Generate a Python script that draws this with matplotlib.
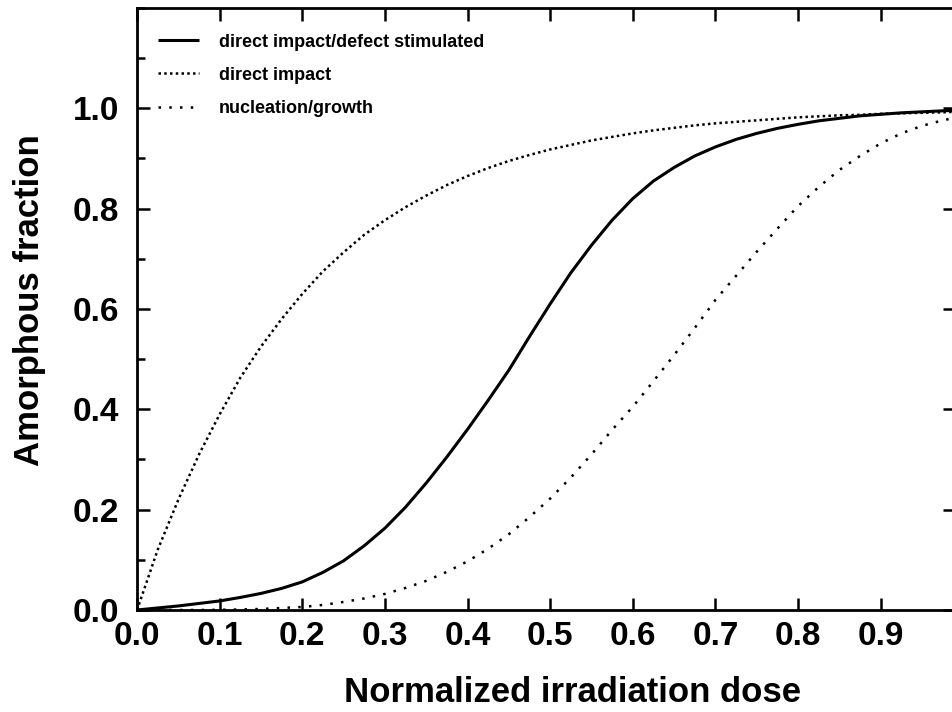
import numpy as np
import matplotlib.pyplot as plt
from matplotlib.ticker import MultipleLocator

plt.rcParams['font.family'] = ['Liberation Sans', 'DejaVu Sans']
plt.rcParams['font.weight'] = 'bold'

# dose values (x) shared by the three curves
dose = [0.0, 0.025, 0.05, 0.075, 0.1, 0.125, 0.15, 0.175, 0.2, 0.225, 0.25,
        0.275, 0.3, 0.325, 0.35, 0.375, 0.4, 0.425, 0.45, 0.475, 0.5,
        0.525, 0.55, 0.575, 0.6, 0.625, 0.65, 0.675, 0.7, 0.725, 0.75,
        0.775, 0.8, 0.825, 0.85, 0.875, 0.9, 0.925, 0.95, 0.975, 0.99]

# direct impact/defect stimulated (solid)
defect_stim = [0.0, 0.004, 0.008, 0.013, 0.018, 0.025, 0.033, 0.043, 0.056, 0.075, 0.098,
               0.128, 0.163, 0.205, 0.253, 0.305, 0.36, 0.418, 0.478, 0.545, 0.61,
               0.672, 0.727, 0.777, 0.82, 0.855, 0.882, 0.905, 0.923, 0.938, 0.95,
               0.96, 0.968, 0.975, 0.98, 0.985, 0.988, 0.991, 0.993, 0.995, 0.996]

# direct impact (dense dots)
direct = [0.0, 0.12, 0.22, 0.31, 0.39, 0.463, 0.525, 0.58, 0.63, 0.675, 0.713,
          0.748, 0.777, 0.803, 0.826, 0.847, 0.865, 0.881, 0.895, 0.907, 0.918,
          0.927, 0.936, 0.943, 0.95, 0.956, 0.961, 0.966, 0.97, 0.973, 0.976,
          0.979, 0.982, 0.984, 0.986, 0.987, 0.989, 0.99, 0.991, 0.992, 0.993]

# nucleation/growth (sparse dots)
nucleation = [0.0, 0.0, 0.0, 0.0, 0.0004, 0.001, 0.002, 0.004, 0.006, 0.01, 0.016,
              0.023, 0.032, 0.044, 0.058, 0.076, 0.097, 0.122, 0.151, 0.185, 0.222,
              0.264, 0.31, 0.359, 0.405, 0.456, 0.508, 0.562, 0.618, 0.666, 0.714,
              0.76, 0.805, 0.843, 0.877, 0.905, 0.93, 0.95, 0.965, 0.976, 0.981]

xticklabels = ['0.0', '0.1', '0.2', '0.3', '0.4', '0.5', '0.6', '0.7', '0.8', '0.9']
yticklabels = ['0.0', '0.2', '0.4', '0.6', '0.8', '1.0']

fig = plt.figure(figsize=(9.53, 7.12), dpi=100)
# right edge runs just past the figure, like the cropped original
ax = fig.add_axes([0.1438, 0.1433, 0.8583, 0.8455])

ax.plot(dose, defect_stim, color='black', lw=2.2, solid_capstyle='butt',
        label='direct impact/defect stimulated')
ax.plot(dose, direct, color='black', lw=1.8, dashes=(1, 1.3),
        label='direct impact')
ax.plot(dose, nucleation, color='black', lw=1.8, dashes=(1, 3.3),
        label='nucleation/growth')

ax.set_xlim(0, 0.99)
ax.set_ylim(0, 1.2)

ax.set_xticks(np.arange(len(xticklabels)) * 0.1)
ax.set_xticklabels(xticklabels)
ax.set_yticks(np.arange(len(yticklabels)) * 0.2)
ax.set_yticklabels(yticklabels)
ax.yaxis.set_minor_locator(MultipleLocator(0.1))

ax.tick_params(which='major', direction='in', length=9, width=1.8,
               top=True, right=True, labelsize=24)
ax.tick_params(axis='x', which='major', pad=8)
ax.tick_params(axis='y', which='major', pad=13)
ax.tick_params(which='minor', direction='in', length=6, width=1.8,
               left=True, right=False)
for s in ax.spines.values():
    s.set_linewidth(2.0)

ax.set_xlabel('Normalized irradiation dose', fontsize=25, fontweight='bold')
ax.set_ylabel('Amorphous fraction', fontsize=25, fontweight='bold')
ax.xaxis.set_label_coords(0.532, -0.11)
ax.yaxis.set_label_coords(-0.111, 0.515)

ax.legend(loc='upper left', bbox_to_anchor=(0, 0.992), frameon=False,
          handlelength=2.3, handletextpad=1.1, labelspacing=0.9,
          borderaxespad=0.75, prop={'weight': 'bold', 'size': 13})

fig.savefig('out.png', dpi=100)
